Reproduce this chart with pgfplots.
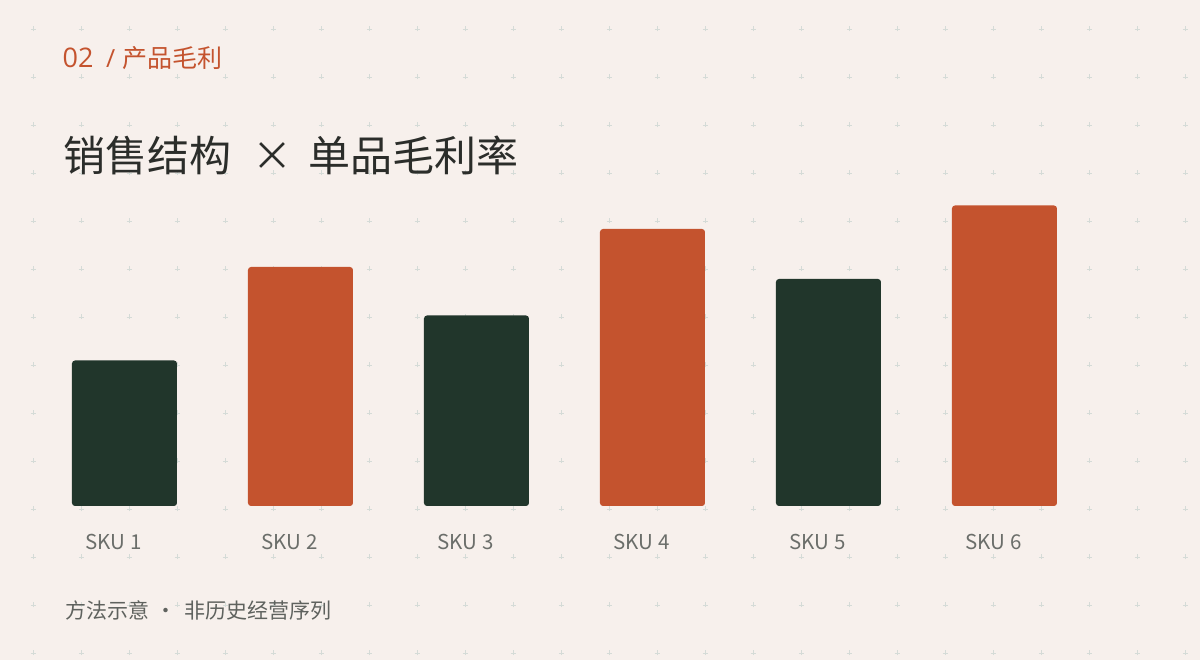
\documentclass[border=0pt]{standalone}
\usepackage{fontspec}
\setmainfont{Noto Sans CJK SC}
\newfontfamily\latin{Open Sans}
\usepackage{pgfplots}
\pgfplotsset{compat=1.18}
\definecolor{bg}{HTML}{F7F0EC}
\definecolor{gridc}{HTML}{D5DBD7}
\definecolor{darkg}{HTML}{21362B}
\definecolor{accent}{HTML}{C4532E}
\definecolor{titlec}{HTML}{2B2D2A}
\definecolor{labelc}{HTML}{6B6E6A}
\definecolor{footc}{HTML}{5F625E}
\begin{document}
\begin{tikzpicture}[x=1pt,y=1pt]
\fill[bg] (0,0) rectangle (1200,660);
\begin{axis}[at={(0,0)}, anchor=south west, width=1200pt, height=660pt, scale only axis,
  xmin=0, xmax=1200, ymin=0, ymax=660,
  axis line style={draw=none},
  xtick={33,81,...,1185}, ytick={7,55,...,631},
  xticklabels={}, yticklabels={}, major tick length=0pt,
  grid=major,
  major x grid style={draw=gridc, line width=0.9pt, dash pattern=on 5pt off 43pt, dash phase=43.5pt},
  major y grid style={draw=gridc, line width=0.9pt, dash pattern=on 5pt off 43pt, dash phase=17.5pt}]
\addplot[draw=none] coordinates {(0,0)};
\end{axis}
\begin{axis}[at={(0,0)}, anchor=south west, width=1200pt, height=660pt, scale only axis,
  xmin=-0.707386, xmax=6.110795, ymin=-30.8, ymax=101.2,
  axis line style={draw=none}, ytick=\empty,
  xtick={0,...,5}, xticklabels={SKU 1,SKU 2,SKU 3,SKU 4,SKU 5,SKU 6},
  major tick length=0pt,
  xticklabel style={anchor=base west, inner sep=0pt, xshift=-39pt, yshift=110.5pt,
    font=\fontsize{20.5}{24}\selectfont, text=labelc},
  ybar, bar width=105pt, bar shift=0pt]
\addplot[fill=darkg, draw=none, rounded corners=3pt] coordinates {(0,29.1) (2,38.1) (4,45.4)};
\addplot[fill=accent, draw=none, rounded corners=3pt] coordinates {(1,47.8) (3,55.4) (5,60.1)};
\end{axis}
% subtitle
\node[anchor=base west, inner sep=0pt, text=accent, font=\latin\fontsize{27}{30}\selectfont] at (62.5,592.5) {02};
\node[anchor=base west, inner sep=0pt, text=accent, font=\latin\fontsize{25}{30}\selectfont] at (106,592.5) {/};
\node[anchor=base west, inner sep=0pt, text=accent, font=\fontsize{25}{30}\selectfont] at (122,592.5) {产品毛利};
% title
\node[anchor=base west, inner sep=0pt, text=titlec, font=\fontsize{42}{50}\selectfont] at (63,488) {销售结构};
\node[anchor=base, inner sep=0pt, text=titlec, font=\fontsize{40}{50}\selectfont] at (272.5,489) {×};
\node[anchor=base west, inner sep=0pt, text=titlec, font=\fontsize{42}{50}\selectfont] at (308,488) {单品毛利率};
% footer
\node[anchor=base west, inner sep=0pt, text=footc, font=\fontsize{21}{25}\selectfont] at (65,41.5) {方法示意};
\node[anchor=base, inner sep=0pt, text=footc, font=\fontsize{21}{25}\selectfont] at (166,41.5) {·};
\node[anchor=base west, inner sep=0pt, text=footc, font=\fontsize{21}{25}\selectfont] at (184,41.5) {非历史经营序列};
\pgfresetboundingbox
\path[use as bounding box] (0,0) rectangle (1200,660);
\end{tikzpicture}
\end{document}
